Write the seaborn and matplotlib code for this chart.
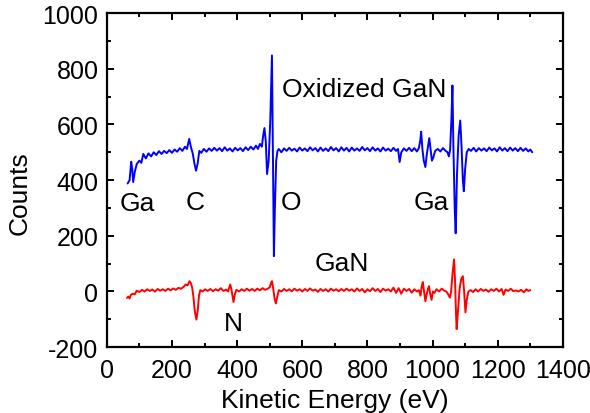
import matplotlib
matplotlib.use('Agg')
import matplotlib.pyplot as plt
from matplotlib.ticker import MultipleLocator
import seaborn as sns

# oxidized GaN spectrum (blue)
blue_energy = [64, 70, 75, 78, 81, 86, 92, 100, 106, 112, 120, 128, 136, 144, 152, 160, 168, 176, 184, 192,
               200, 208, 216, 224, 232, 240, 246, 253, 258, 264, 269, 274, 279, 284, 290, 298, 306, 314, 322, 330,
               338, 346, 354, 362, 370, 378, 386, 394, 402, 410, 418, 426, 434, 442, 450, 458, 464, 470, 476, 480,
               484, 488, 492, 497, 502, 507, 509, 513, 516, 520, 524, 528, 536, 544, 552, 560, 568, 576, 584, 592,
               600, 608, 616, 624, 632, 640, 648, 656, 664, 672, 680, 688, 696, 704, 712, 720, 728, 736, 744, 752,
               760, 768, 776, 784, 792, 800, 808, 816, 824, 832, 840, 848, 856, 864, 872, 880, 888, 894, 899, 904,
               912, 920, 928, 936, 944, 952, 958, 962, 965, 969, 973, 978, 982, 986, 990, 994, 998, 1002, 1008, 1016,
               1024, 1032, 1040, 1046, 1050, 1054, 1058, 1061, 1064, 1068, 1071, 1075, 1080, 1085, 1089, 1093, 1096, 1100, 1105, 1111,
               1118, 1126, 1134, 1142, 1150, 1158, 1166, 1174, 1182, 1190, 1198, 1206, 1214, 1222, 1230, 1238, 1246, 1254, 1262, 1270,
               1278, 1286, 1294, 1300, 1306]
blue_counts = [388, 400, 466, 440, 393, 430, 458, 470, 462, 494, 478, 496, 485, 500, 490, 504, 494, 505, 497, 508,
               498, 510, 502, 515, 505, 520, 512, 548, 520, 495, 460, 434, 460, 505, 498, 512, 502, 514, 505, 516,
               506, 515, 504, 518, 506, 514, 503, 516, 507, 515, 504, 518, 508, 520, 510, 524, 512, 530, 520, 560,
               587, 540, 422, 470, 620, 848, 600, 127, 300, 470, 505, 512, 500, 514, 505, 516, 506, 513, 503, 517,
               506, 514, 504, 518, 507, 515, 503, 517, 505, 514, 504, 519, 507, 515, 503, 518, 506, 516, 503, 517,
               506, 514, 505, 519, 507, 515, 504, 518, 506, 514, 503, 517, 506, 513, 504, 516, 505, 512, 465, 500,
               514, 505, 516, 504, 515, 503, 515, 540, 574, 510, 470, 447, 490, 520, 551, 510, 470, 480, 505, 512,
               503, 515, 505, 500, 485, 510, 620, 740, 520, 300, 209, 420, 560, 614, 520, 400, 360, 440, 500, 512,
               505, 516, 503, 515, 506, 514, 504, 517, 507, 514, 503, 518, 506, 515, 504, 517, 506, 515, 504, 516,
               505, 514, 503, 510, 500]

# GaN spectrum (red)
red_energy = [62, 66, 70, 74, 80, 86, 92, 100, 108, 116, 124, 132, 140, 148, 156, 164, 172, 180, 188, 196,
              204, 212, 220, 228, 236, 242, 248, 254, 258, 262, 266, 270, 275, 279, 283, 287, 294, 302, 310, 318,
              326, 334, 342, 350, 358, 366, 372, 379, 383, 389, 393, 398, 406, 414, 422, 430, 438, 446, 454, 462,
              470, 478, 486, 494, 500, 504, 507, 511, 515, 519, 523, 528, 536, 544, 552, 560, 568, 576, 584, 592,
              600, 608, 616, 624, 632, 640, 648, 656, 664, 672, 680, 688, 696, 704, 712, 720, 728, 736, 744, 752,
              760, 768, 776, 784, 792, 800, 808, 816, 824, 832, 840, 848, 856, 864, 872, 880, 888, 896, 904, 912,
              920, 928, 936, 944, 952, 958, 963, 967, 970, 974, 978, 982, 986, 989, 993, 997, 1001, 1006, 1012, 1020,
              1028, 1036, 1042, 1048, 1053, 1057, 1061, 1066, 1069, 1072, 1074, 1078, 1083, 1088, 1093, 1097, 1101, 1105, 1110, 1117,
              1124, 1132, 1140, 1148, 1156, 1164, 1172, 1180, 1188, 1196, 1204, 1212, 1218, 1224, 1232, 1240, 1248, 1256, 1264, 1272,
              1280, 1288, 1294, 1300]
red_counts = [-23, -18, -25, -12, -8, -10, 3, -2, 6, 0, 8, 2, 7, 0, 9, 3, 8, 2, 10, 4,
              11, 6, 13, 10, 17, 25, 22, 37, 30, 15, -20, -70, -101, -70, -15, 5, 0, 8, 2, 9,
              1, 8, 3, 12, 2, 7, 0, 25, 5, -38, -10, 6, 0, 8, 2, 10, 3, 9, 2, 10,
              4, 12, 6, 10, 15, 30, 37, 10, -25, -43, -20, 5, 0, 9, 2, 8, 1, 10, 3, 8,
              0, 9, 2, 11, 3, 7, -1, 9, 2, 8, 0, 10, 3, 8, 1, 9, 2, 10, 3, 8,
              0, 11, 2, 9, -3, 8, 1, 12, 2, 9, -2, 10, 3, 8, 0, 14, -5, 12, -8, 10,
              2, 9, -4, 8, 0, 5, -15, 20, 34, 0, -35, -10, 10, 19, -10, -30, 0, -5, 8, 0,
              10, 3, 0, -10, -22, 0, 60, 115, 40, -80, -135, -70, 10, 45, 55, 0, -75, -30, 0, 5,
              -2, 8, 0, 9, 2, 7, -1, 8, 2, 10, 0, 9, -12, 7, 2, 10, 1, 4, 0, 6,
              -3, 8, 2, 5]

labels = ['Ga', 'C', 'O', 'Ga', 'Oxidized GaN', 'GaN', 'N']
label_x = [95, 272, 565, 995, 790, 722, 388]
label_y = [293, 295, 295, 295, 701, 77, -137]

sns.set_style('ticks')
plt.rcParams['font.family'] = ['Liberation Sans', 'DejaVu Sans']
plt.rcParams['axes.unicode_minus'] = False
plt.rcParams['text.color'] = 'black'
plt.rcParams['axes.labelcolor'] = 'black'
plt.rcParams['xtick.color'] = 'black'
plt.rcParams['ytick.color'] = 'black'

fig = plt.figure(figsize=(5.9, 4.14), dpi=100)
ax = fig.add_axes([0.181, 0.159, 0.773, 0.807])

sns.lineplot(x=blue_energy, y=blue_counts, color='#0000ff', linewidth=1.4, sort=False, estimator=None, ax=ax)
sns.lineplot(x=red_energy, y=red_counts, color='#ff0000', linewidth=1.4, sort=False, estimator=None, ax=ax)

for t, x, y in zip(labels, label_x, label_y):
    ax.text(x, y, t, ha='center', va='baseline', fontsize=19, color='black')

ax.set_xlim(0, 1400)
ax.set_ylim(-200, 1000)
ax.xaxis.set_major_locator(MultipleLocator(200))
ax.xaxis.set_minor_locator(MultipleLocator(100))
ax.yaxis.set_major_locator(MultipleLocator(200))
ax.yaxis.set_minor_locator(MultipleLocator(100))
ax.tick_params(which='both', direction='in', top=True, right=True, width=1.4, colors='black')
ax.tick_params(which='major', length=5)
ax.tick_params(which='minor', length=3)
ax.tick_params(axis='x', which='major', labelsize=18, pad=8)
ax.tick_params(axis='y', which='major', labelsize=18, pad=6)
for s in ax.spines.values():
    s.set_linewidth(1.6)
    s.set_color('black')

ax.set_xlabel('Kinetic Energy (eV)', fontsize=19, labelpad=4)
ax.set_ylabel('Counts', fontsize=19)
ax.yaxis.set_label_coords(-0.164, 0.463)

fig.savefig('out.png', dpi=100)
